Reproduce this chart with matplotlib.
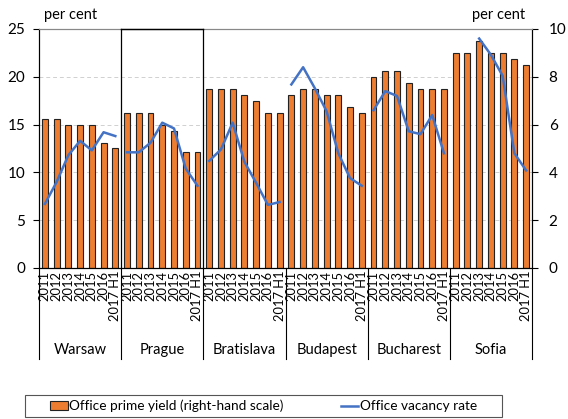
import numpy as np
import matplotlib
matplotlib.use('Agg')
import matplotlib.pyplot as plt
import matplotlib.transforms as mtrans
from matplotlib.patches import Patch, Rectangle
from matplotlib.lines import Line2D

plt.rcParams['font.family'] = ['Lato', 'DejaVu Sans']

# data
cities = ['Warsaw', 'Prague', 'Bratislava', 'Budapest', 'Bucharest', 'Sofia']
years = ['2011', '2012', '2013', '2014', '2015', '2016', '2017 H1']

# office prime yield, right-hand scale
yield_warsaw = [6.25, 6.25, 6.0, 6.0, 6.0, 5.25, 5.0]
yield_prague = [6.5, 6.5, 6.5, 6.0, 5.75, 4.85, 4.85]
yield_bratislava = [7.5, 7.5, 7.5, 7.25, 7.0, 6.5, 6.5]
yield_budapest = [7.25, 7.5, 7.5, 7.25, 7.25, 6.75, 6.5]
yield_bucharest = [8.0, 8.25, 8.25, 7.75, 7.5, 7.5, 7.5]
yield_sofia = [9.0, 9.0, 9.5, 9.0, 9.0, 8.75, 8.5]

# office vacancy rate, left-hand scale
vac_warsaw = [6.7, 9.0, 11.8, 13.3, 12.3, 14.2, 13.8]
vac_prague = [12.1, 12.1, 13.1, 15.2, 14.6, 10.4, 8.6]
vac_bratislava = [11.2, 12.4, 15.2, 11.1, 8.9, 6.6, 6.9]
vac_budapest = [19.2, 21.0, 18.8, 16.4, 12.0, 9.4, 8.6]
vac_bucharest = [16.5, 18.5, 18.0, 14.3, 14.0, 16.0, 12.0]
vac_sofia = [np.nan, np.nan, 24.0, 22.3, 20.1, 12.0, 10.2]

yields = [yield_warsaw, yield_prague, yield_bratislava,
          yield_budapest, yield_bucharest, yield_sofia]
vacancy = [vac_warsaw, vac_prague, vac_bratislava,
           vac_budapest, vac_bucharest, vac_sofia]

orange = '#ED7D31'
blue = '#4472C4'
n = len(years)

fig = plt.figure(figsize=(5.68, 4.19), dpi=100)
ax2 = fig.add_axes([0.0687, 0.3604, 0.8679, 0.5704])  # bars, right scale
ax = ax2.twinx()                                      # line, left scale
ax.yaxis.tick_left()
ax2.yaxis.tick_right()
ax.set_zorder(ax2.get_zorder() + 1)
ax.patch.set_visible(False)

x_all = np.arange(n * len(cities))
ax2.bar(x_all, np.concatenate(yields), width=0.5, color=orange,
        edgecolor='#222222', linewidth=0.8, zorder=2)
for i, v in enumerate(vacancy):
    ax.plot(np.arange(n) + i * n, v, color=blue, lw=1.8)

ax2.set_ylim(0, 10)
ax2.set_yticks(range(0, 11, 2))
ax.set_ylim(0, 25)
ax.set_yticks(range(0, 26, 5))
ax2.set_xlim(-0.5, n * len(cities) - 0.5)
ax2.yaxis.grid(True, linestyle=(0, (4, 3)), color='#d0d0d0', lw=0.7, zorder=0)
ax2.set_axisbelow(True)

for a in (ax, ax2):
    a.tick_params(axis='y', labelsize=11, length=4, width=0.8, color='black')
    a.spines['top'].set_color('#888888')
    a.spines['left'].set_color('black')
    a.spines['right'].set_color('black')
ax.tick_params(axis='y', pad=6)
ax2.tick_params(axis='y', pad=8)

ax2.set_xticks(x_all)
ax2.set_xticklabels(years * len(cities), rotation=90, fontsize=9.3)
ax2.tick_params(axis='x', length=0, pad=2)

# group separators below the axis, and the Prague box
trans = mtrans.blended_transform_factory(ax.transData, ax.transAxes)
for k in range(len(cities) + 1):
    ax.plot([k * n - 0.5] * 2, [0, -0.38], transform=trans, color='black',
            lw=0.8, clip_on=False)
for k in (1, 2):
    ax.plot([k * n - 0.5] * 2, [0, 1], transform=trans, color='black',
            lw=0.9, clip_on=False, zorder=5)
ax.plot([n - 0.5, 2 * n - 0.5], [1, 1], transform=trans, color='black',
        lw=1.0, clip_on=False, zorder=5)

for i, c in enumerate(cities):
    ax.text(i * n + (n - 1) / 2, -0.343, c, transform=trans,
            ha='center', va='center', fontsize=10.5)

fig.text(44 / 568, 1 - 15 / 419, 'per cent', fontsize=10.5, va='center')
fig.text(525 / 568, 1 - 15 / 419, 'per cent', fontsize=10.5, va='center', ha='right')

handles = [Patch(facecolor=orange, edgecolor='#222222', linewidth=0.8),
           Line2D([], [], color=blue, lw=1.8)]
labels = ['Office prime yield (right-hand scale)', 'Office vacancy rate']
fig.legend(handles, labels, loc='center', ncol=2,
           bbox_to_anchor=(25 / 568, 2 / 419, 477 / 568, 22 / 419),
           fontsize=9.8, frameon=False,
           handlelength=1.3, handletextpad=0.1, columnspacing=4.2,
           borderpad=0.3)
# legend frame spanning the width as in the reference
fig.patches.append(Rectangle((25 / 568, 2 / 419), 477 / 568, 22 / 419,
                             transform=fig.transFigure, fill=False,
                             edgecolor='#555555', lw=0.8))

fig.savefig('out.png', dpi=100)
